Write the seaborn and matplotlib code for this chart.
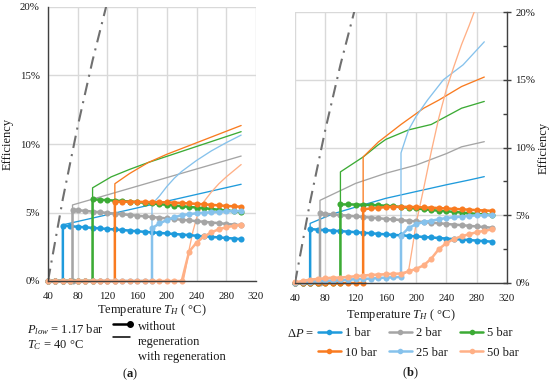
import matplotlib
matplotlib.use("Agg")
import matplotlib.pyplot as plt
import seaborn as sns
from matplotlib.lines import Line2D
from matplotlib.ticker import MultipleLocator, PercentFormatter

# ---- data (efficiency in %) ----
series_labels = ["1 bar", "2 bar", "5 bar", "10 bar", "25 bar", "50 bar"]
colors = ["#1f9bdc", "#a5a5a5", "#3cab35", "#f97b20", "#86c2ec", "#ffb086"]

# carnot limit
carnot_t = [40, 60, 80, 100, 120, 140]
carnot_eff = [0.0, 6.0, 11.3, 16.1, 20.4, 24.2]

# panel (a) - without regeneration (markers)
a1_t = [40, 50, 60, 60, 70, 80, 90, 100, 110, 120, 130, 140, 150, 160, 170, 180, 190, 200, 210, 220, 230, 240, 250, 260, 270, 280, 290, 300]
a1_eff = [0, 0, 0, 4.05, 4.0, 3.96, 3.92, 3.88, 3.84, 3.8, 3.76, 3.72, 3.68, 3.63, 3.59, 3.55, 3.51, 3.47, 3.43, 3.39, 3.35, 3.3, 3.26, 3.22, 3.18, 3.14, 3.1, 3.05]
a2_t = [40, 50, 60, 70, 73, 73, 80, 90, 100, 110, 120, 130, 140, 150, 160, 170, 180, 190, 200, 210, 220, 230, 240, 250, 260, 270, 280, 290, 300]
a2_eff = [0, 0, 0, 0, 0, 5.2, 5.17, 5.12, 5.07, 5.02, 4.97, 4.92, 4.87, 4.82, 4.77, 4.72, 4.67, 4.62, 4.57, 4.52, 4.47, 4.42, 4.37, 4.32, 4.27, 4.22, 4.17, 4.12, 4.07]
a3_t = [40, 50, 60, 70, 80, 90, 100, 100, 110, 120, 130, 140, 150, 160, 170, 180, 190, 200, 210, 220, 230, 240, 250, 260, 270, 280, 290, 300]
a3_eff = [0, 0, 0, 0, 0, 0, 0, 5.96, 5.93, 5.9, 5.87, 5.84, 5.8, 5.76, 5.71, 5.66, 5.61, 5.56, 5.51, 5.46, 5.41, 5.36, 5.31, 5.26, 5.2, 5.15, 5.1, 5.05]
a4_t = [40, 50, 60, 70, 80, 90, 100, 110, 120, 130, 130, 140, 150, 160, 170, 180, 190, 200, 210, 220, 230, 240, 250, 260, 270, 280, 290, 300]
a4_eff = [0, 0, 0, 0, 0, 0, 0, 0, 0, 0, 5.78, 5.79, 5.79, 5.78, 5.77, 5.76, 5.75, 5.74, 5.72, 5.69, 5.66, 5.63, 5.6, 5.56, 5.52, 5.48, 5.45, 5.42]
a5_t = [40, 50, 60, 70, 80, 90, 100, 110, 120, 130, 140, 150, 160, 170, 180, 180, 190, 200, 210, 220, 230, 240, 250, 260, 270, 280, 290, 300]
a5_eff = [0, 0, 0, 0, 0, 0, 0, 0, 0, 0, 0, 0, 0, 0, 0, 3.85, 4.2, 4.45, 4.65, 4.8, 4.88, 4.94, 4.98, 5.02, 5.05, 5.08, 5.1, 5.11]
a6_t = [40, 50, 60, 70, 80, 90, 100, 110, 120, 130, 140, 150, 160, 170, 180, 190, 200, 210, 220, 230, 240, 250, 260, 270, 280, 290, 300]
a6_eff = [0, 0, 0, 0, 0, 0, 0, 0, 0, 0, 0, 0, 0, 0, 0, 0, 0, 0, 0, 2.15, 2.8, 3.25, 3.55, 3.78, 3.92, 4.03, 4.12]

# panel (a) - with regeneration (lines)
a1r_t = [40, 60, 60, 300]
a1r_eff = [0, 0, 4.1, 7.06]
a2r_t = [40, 73, 73, 300]
a2r_eff = [0, 0, 5.55, 9.12]
a3r_t = [40, 100, 100, 125, 150, 175, 200, 250, 300]
a3r_eff = [0, 0, 6.8, 7.6, 8.15, 8.65, 9.1, 10.0, 10.9]
a4r_t = [40, 130, 130, 150, 175, 200, 250, 300]
a4r_eff = [0, 0, 7.1, 7.85, 8.65, 9.25, 10.3, 11.35]
a5r_t = [40, 180, 180, 185, 190, 200, 210, 220, 240, 260, 280, 300]
a5r_eff = [0, 0, 5.4, 5.9, 6.2, 6.9, 7.5, 8.0, 8.8, 9.5, 10.1, 10.65]
a6r_t = [40, 222, 225, 230, 235, 240, 250, 260, 270, 280, 290, 300]
a6r_eff = [0, 0, 0.8, 2.3, 3.6, 4.6, 5.8, 6.5, 7.1, 7.6, 8.05, 8.5]

# panel (b) - without regeneration (markers), same temperatures as panel (a)
b1_eff = [0, 0, 0, 3.98, 3.94, 3.9, 3.86, 3.83, 3.79, 3.75, 3.71, 3.67, 3.63, 3.59, 3.55, 3.52, 3.48, 3.44, 3.4, 3.36, 3.32, 3.28, 3.24, 3.21, 3.17, 3.13, 3.09, 3.05]
b2_eff = [0, 0, 0, 0, 0, 5.14, 5.11, 5.06, 5.01, 4.97, 4.92, 4.87, 4.83, 4.78, 4.73, 4.69, 4.64, 4.59, 4.55, 4.5, 4.45, 4.41, 4.36, 4.31, 4.27, 4.22, 4.17, 4.13, 4.08]
b3_eff = [0, 0, 0, 0, 0, 0, 0, 5.8, 5.8, 5.79, 5.78, 5.76, 5.74, 5.7, 5.66, 5.61, 5.55, 5.5, 5.45, 5.39, 5.33, 5.29, 5.25, 5.2, 5.15, 5.1, 5.06, 5.02]
b4_eff = [0, 0, 0, 0, 0, 0, 0, 0, 0, 0, 5.44, 5.5, 5.55, 5.6, 5.62, 5.62, 5.62, 5.6, 5.58, 5.56, 5.53, 5.5, 5.47, 5.44, 5.41, 5.38, 5.35, 5.33]
b5_eff = [0, 0.05, 0.1, 0.12, 0.15, 0.18, 0.2, 0.25, 0.28, 0.3, 0.33, 0.36, 0.4, 0.42, 0.45, 3.5, 4.05, 4.35, 4.5, 4.6, 4.7, 4.8, 4.85, 4.9, 4.95, 5.0, 5.0, 5.0]
b6_eff = [0.05, 0.15, 0.25, 0.3, 0.35, 0.4, 0.4, 0.45, 0.5, 0.55, 0.6, 0.62, 0.65, 0.68, 0.7, 0.85, 1.05, 1.3, 1.8, 2.5, 2.95, 3.25, 3.45, 3.6, 3.75, 3.85, 3.95]

# panel (b) - with regeneration (lines)
b1r_t = [40, 60, 60, 90, 120, 160, 200, 240, 270, 290]
b1r_eff = [0, 0, 4.4, 5.1, 5.6, 6.25, 6.75, 7.25, 7.6, 7.85]
b2r_t = [40, 73, 73, 120, 160, 200, 240, 260, 290]
b2r_eff = [0, 0, 6.1, 7.35, 8.1, 8.7, 9.55, 10.05, 10.43]
b3r_t = [40, 100, 100, 130, 150, 160, 190, 220, 240, 260, 290]
b3r_eff = [0, 0, 8.2, 9.3, 10.2, 10.6, 11.3, 11.7, 12.3, 12.9, 13.4]
b4r_t = [40, 130, 130, 150, 180, 210, 230, 260, 290]
b4r_eff = [0, 0, 9.3, 10.4, 11.7, 12.9, 13.5, 14.5, 15.2]
b5r_t = [40, 100, 180, 180, 190, 200, 215, 236, 262, 290]
b5r_eff = [0, 0.2, 0.45, 9.6, 11.3, 12.3, 13.5, 15.0, 16.1, 17.8]
b6r_t = [40, 100, 150, 185, 190, 195, 200, 210, 220, 230, 240, 250, 260, 270, 280, 290]
b6r_eff = [0.05, 0.4, 0.6, 0.7, 0.9, 2.6, 4.4, 7.0, 9.7, 12.2, 14.3, 16.0, 17.6, 19.0, 20.5, 21.8]

sns.set_theme(style="white")
plt.rcParams['font.family'] = ['Liberation Serif', 'DejaVu Serif']
plt.rcParams['mathtext.fontset'] = 'custom'
plt.rcParams['mathtext.rm'] = 'Liberation Serif'
plt.rcParams['mathtext.it'] = 'Liberation Serif:italic'
plt.rcParams['mathtext.bf'] = 'Liberation Serif:bold'

W, H = 550, 382
fig = plt.figure(figsize=(5.5, 3.82), dpi=100)
ax_a = fig.add_axes([48 / W, 1 - 281 / H, 208 / W, 274 / H])
ax_b = fig.add_axes([295 / W, 1 - 283 / H, 212 / W, 271 / H])

axis_col = "#404040"
grid_col = "#d9d9d9"
txt_col = "#1a1a1a"


def line(ax, t, e, c, lw, marker=None, clip=True):
    sns.lineplot(x=t, y=e, ax=ax, color=c, lw=lw, marker=marker, markersize=4.4,
                 markeredgewidth=0, estimator=None, sort=False)
    ax.lines[-1].set_clip_on(clip)


panels = [
    (ax_a,
     [(a1r_t, a1r_eff), (a2r_t, a2r_eff), (a3r_t, a3r_eff), (a4r_t, a4r_eff), (a5r_t, a5r_eff), (a6r_t, a6r_eff)],
     [(a1_t, a1_eff), (a2_t, a2_eff), (a3_t, a3_eff), (a4_t, a4_eff), (a5_t, a5_eff), (a6_t, a6_eff)]),
    (ax_b,
     [(b1r_t, b1r_eff), (b2r_t, b2r_eff), (b3r_t, b3r_eff), (b4r_t, b4r_eff), (b5r_t, b5r_eff), (b6r_t, b6r_eff)],
     [(a1_t, b1_eff), (a2_t, b2_eff), (a3_t, b3_eff), (a4_t, b4_eff), (a5_t, b5_eff), (a6_t, b6_eff)]),
]

for ax, regen, plain in panels:
    for (t, e), c in zip(regen, colors):
        line(ax, t, e, c, 0.95)
    for (t, e), c in zip(plain, colors):
        line(ax, t, e, c, 1.8, marker="o", clip=False)
    ax.plot(carnot_t, carnot_eff, color="#707070", lw=1.5, ls=(0, (6, 3, 1, 3)))

    ax.set_xlim(40, 320)
    ax.set_ylim(0, 20)
    ax.xaxis.set_major_locator(MultipleLocator(40))
    ax.xaxis.set_minor_locator(MultipleLocator(20))
    ax.yaxis.set_major_locator(MultipleLocator(5))
    ax.yaxis.set_minor_locator(MultipleLocator(2.5))
    ax.yaxis.set_major_formatter(PercentFormatter(100, decimals=0))
    ax.grid(True, which="major", color=grid_col, lw=1.0)
    ax.set_axisbelow(True)
    ax.tick_params(which="major", direction="inout", length=6, width=1.0, color=axis_col,
                   labelsize=7.8, labelcolor=txt_col, pad=3)
    ax.tick_params(axis="x", which="major", pad=5)
    ax.tick_params(which="minor", direction="in", length=3, width=1.0, color=axis_col)
    for s in ax.spines.values():
        s.set_color(axis_col)
        s.set_linewidth(1.0)
    ax.spines["top"].set_visible(False)

ax_a.set_xlabel("Temperature $T_H$ ( °C)", fontsize=9, color=txt_col, labelpad=1)
ax_b.set_xlabel("Temperature $T_H$ ( °C)", fontsize=9, color=txt_col, labelpad=3)

ax_a.spines["right"].set_visible(False)
ax_a.set_ylabel("Efficiency", fontsize=9, color=txt_col, labelpad=4)

ax_b.spines["left"].set_visible(False)
ax_b.yaxis.tick_right()
ax_b.yaxis.set_label_position("right")
ax_b.tick_params(axis="y", which="both", left=False, right=True)
ax_b.set_ylabel("Efficiency", fontsize=9, color=txt_col, labelpad=2)

# panel (a) legend
fs = 9
fig.text(27 / W, 1 - 330 / H, r"$P_{low}$ = 1.17 bar", fontsize=fs, va="center", color=txt_col)
fig.text(27 / W, 1 - 345 / H, r"$T_C$ = 40 °C", fontsize=fs, va="center", color=txt_col)
fig.add_artist(Line2D([113 / W, 130 / W], [1 - 324 / H, 1 - 324 / H], color="black", lw=1.8,
                      marker="o", markersize=4, markevery=[1], transform=fig.transFigure))
fig.add_artist(Line2D([113 / W, 130 / W], [1 - 337 / H, 1 - 337 / H], color="black", lw=1.1,
                      transform=fig.transFigure))
fig.text(138 / W, 1 - 327 / H, "without", fontsize=fs, va="center", color=txt_col)
fig.text(138 / W, 1 - 342 / H, "regeneration", fontsize=fs, va="center", color=txt_col)
fig.text(138 / W, 1 - 357 / H, "with regeneration", fontsize=fs, va="center", color=txt_col)

# panel (b) legend
handles = [Line2D([], [], color=c, lw=1.8, marker="o", markersize=4, markeredgewidth=0) for c in colors]
order = [0, 3, 1, 4, 2, 5]
fig.legend([handles[i] for i in order], [series_labels[i] for i in order], ncol=3,
           loc="upper left", bbox_to_anchor=(318 / W, 1 - 327 / H), frameon=False,
           fontsize=fs, handlelength=1.8, handletextpad=0.35, columnspacing=1.0,
           labelspacing=0.6, borderpad=0, borderaxespad=0, labelcolor=txt_col)
fig.text(287 / W, 1 - 334 / H, r"$\Delta P$ =", fontsize=fs, va="center", color=txt_col)

fig.text(130 / W, 1 - 374 / H, r"($\mathbf{a}$)", fontsize=fs, ha="center", va="center", color=txt_col)
fig.text(410 / W, 1 - 373 / H, r"($\mathbf{b}$)", fontsize=fs, ha="center", va="center", color=txt_col)

fig.savefig("out.png", dpi=100)
